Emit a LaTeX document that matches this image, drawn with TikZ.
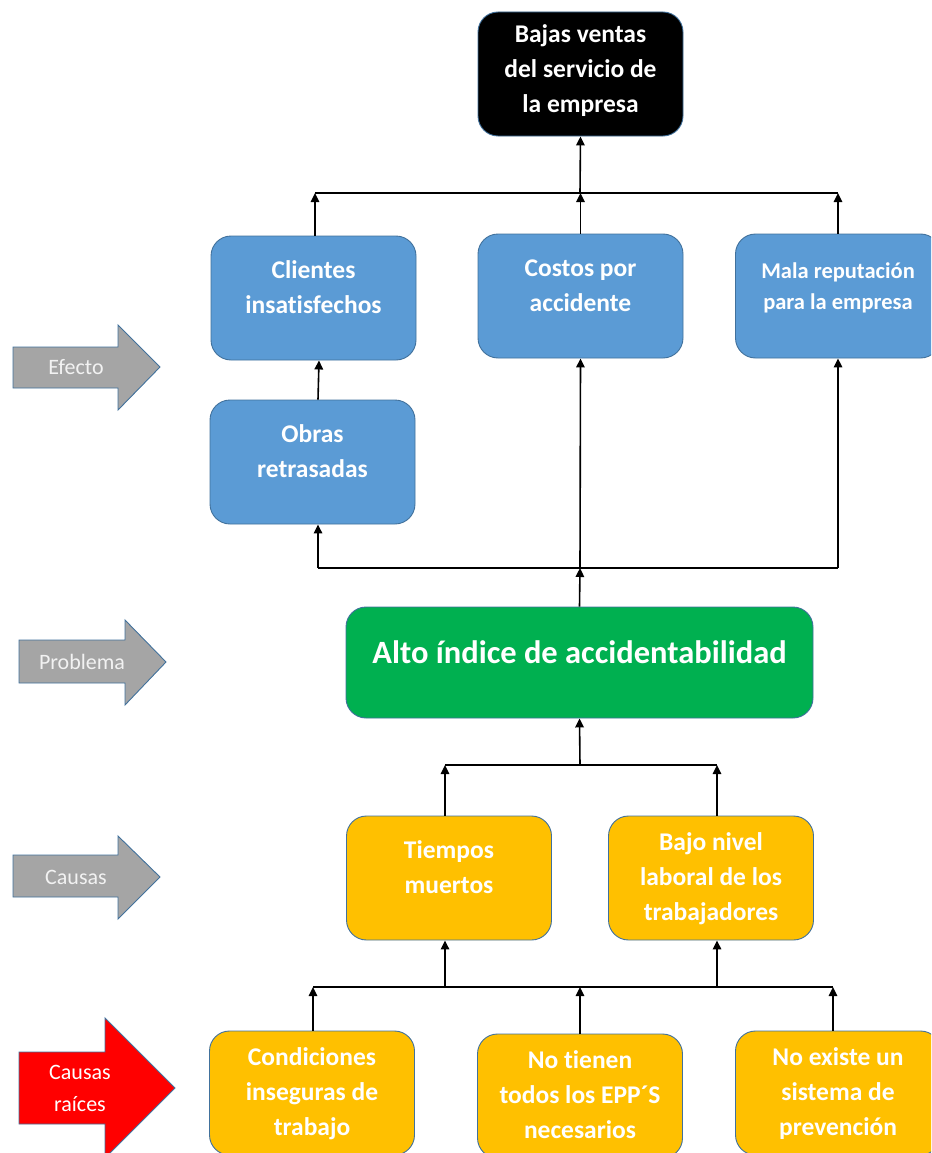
\documentclass[tikz,border=0pt]{standalone}
\usepackage{fontspec}
\setmainfont[Ligatures={NoCommon}]{Carlito}
\usetikzlibrary{arrows.meta}
\definecolor{boxblue}{HTML}{5B9BD5}
\definecolor{boxyellow}{HTML}{FFC000}
\definecolor{boxgreen}{HTML}{00B050}
\definecolor{arrgray}{HTML}{A5A5A5}
\definecolor{arrred}{HTML}{FF0000}
\definecolor{edge}{HTML}{41719C}
\definecolor{lbl}{HTML}{F2F2F2}
\newcommand\lowpad[1]{\rule[-#1]{0pt}{#1}}
\begin{document}
\begin{tikzpicture}[x=1pt,y=-1pt,
  box/.style={draw=edge, line width=0.9pt, rounded corners=20pt, minimum width=205pt,
    minimum height=124pt, inner sep=0pt, align=center, text=white,
    font=\fontsize{25.5}{35}\selectfont\bfseries},
  bluebox/.style={box, fill=boxblue},
  yellowbox/.style={box, fill=boxyellow},
  arr/.style={line width=1.6pt, -{Triangle[length=9pt,width=8.5pt]}},
  bar/.style={line width=1.6pt},
  side/.style={draw=edge, line width=0.9pt, line join=miter},
  sidetxt/.style={text=lbl, font=\fontsize{22}{32}\selectfont, align=center, inner sep=0pt}
]
\useasboundingbox (0,0) rectangle (931,1153);
\clip (0,0) rectangle (931,1153);

% boxes
\node[box, fill=black] (bajas) at (580.5,74) {\strut Bajas ventas\\\strut del servicio de\\\strut la empresa\lowpad{16.5pt}};
\node[bluebox] (clientes) at (313.5,298) {\strut Clientes\\\strut insatisfechos\lowpad{28.5pt}};
\node[bluebox] (costos) at (580.5,296) {\strut Costos por\\\strut accidente\lowpad{28.5pt}};
\node[bluebox, font=\fontsize{22.5}{31}\selectfont\bfseries] (mala) at (838,296) {\strut Mala reputación\\\strut para la empresa\lowpad{26pt}};
\node[bluebox] (obras) at (312.5,462) {\strut Obras\\\strut retrasadas\lowpad{28.5pt}};
\node[box, fill=boxgreen, minimum width=467pt, minimum height=111pt, font=\fontsize{32.5}{40}\selectfont\bfseries] (alto) at (579.5,662.5) {\strut Alto índice de accidentabilidad\lowpad{26pt}};
\node[yellowbox] (tiempos) at (449,878) {\strut Tiempos\\\strut muertos\lowpad{29pt}};
\node[yellowbox] (bajo) at (711,878) {\strut Bajo nivel\\\strut laboral de los\\\strut trabajadores};
\node[yellowbox] (cond) at (312,1093) {\strut Condiciones\\\strut inseguras de\\\strut trabajo};
\node[yellowbox] (notienen) at (580,1096) {\strut No tienen\\\strut todos los EPP´S\\\strut necesarios};
\node[yellowbox] (noexiste) at (838,1093) {\strut No existe un\\\strut sistema de\\\strut prevención};

% junctions
\coordinate (jtop) at (580,193);
\coordinate (jmid) at (580,568);
\coordinate (jlow) at (580,765);
\coordinate (jbot) at (580,987);

% top level
\draw[bar] ([xshift=1.5pt]clientes.north |- jtop) -- (mala.north |- jtop);
\draw[arr] (jtop) -- (bajas.south);
\draw[arr] ([xshift=1.5pt]clientes.north) -- ([xshift=1.5pt]clientes.north |- jtop);
\draw[arr] (costos.north) -- (costos.north |- jtop);
\draw[arr] (mala.north) -- (mala.north |- jtop);
\draw[arr] ([xshift=5.5pt]obras.north) -- ([xshift=5.5pt]clientes.south);

% middle level
\draw[bar] ([xshift=5.5pt]obras.south |- jmid) -- (mala.south |- jmid);
\draw[arr] ([xshift=5.5pt]obras.south |- jmid) -- ([xshift=5.5pt]obras.south);
\draw[arr] (mala.south |- jmid) -- (mala.south);
\draw[arr] (jmid) -- (costos.south);
\draw[arr] (alto.north) -- (jmid);

% causes
\draw[bar] ([xshift=-4pt]tiempos.north |- jlow) -- ([xshift=6pt]bajo.north |- jlow);
\draw[arr] (jlow) -- (alto.south);
\draw[arr] ([xshift=-4pt]tiempos.north) -- ([xshift=-4pt]tiempos.north |- jlow);
\draw[arr] ([xshift=6pt]bajo.north) -- ([xshift=6pt]bajo.north |- jlow);

% root causes
\draw[bar] ([xshift=1pt]cond.north |- jbot) -- ([xshift=-5pt]noexiste.north |- jbot);
\draw[arr] ([xshift=-4pt]tiempos.south |- jbot) -- ([xshift=-4pt]tiempos.south);
\draw[arr] ([xshift=6pt]bajo.south |- jbot) -- ([xshift=6pt]bajo.south);
\draw[arr] ([xshift=1pt]cond.north) -- ([xshift=1pt]cond.north |- jbot);
\draw[arr] (notienen.north) -- (notienen.north |- jbot);
\draw[arr] ([xshift=-5pt]noexiste.north) -- ([xshift=-5pt]noexiste.north |- jbot);

% side arrows
\draw[side, fill=arrgray] (13,347) -- (118,347) -- (118,325) -- (160,367) -- (118,410) -- (118,388) -- (13,388) -- cycle;
\node[sidetxt] (efecto) at (76,367) {Efecto};
\draw[side, fill=arrgray] (19,640) -- (125,640) -- (125,620) -- (166,662) -- (125,705) -- (125,683) -- (19,683) -- cycle;
\node[sidetxt] (problema) at (82,662) {Problema};
\draw[side, fill=arrgray] (13,855) -- (118,855) -- (118,836) -- (160,877) -- (118,919) -- (118,897) -- (13,897) -- cycle;
\node[sidetxt] (causas) at (76,877) {Causas};
\draw[side, fill=arrred] (19,1052) -- (105,1052) -- (105,1018) -- (175,1088) -- (105,1158) -- (105,1124) -- (19,1124) -- cycle;
\node[sidetxt, text=white] (raices) at (80,1088) {Causas\\raíces};
\end{tikzpicture}
\end{document}
